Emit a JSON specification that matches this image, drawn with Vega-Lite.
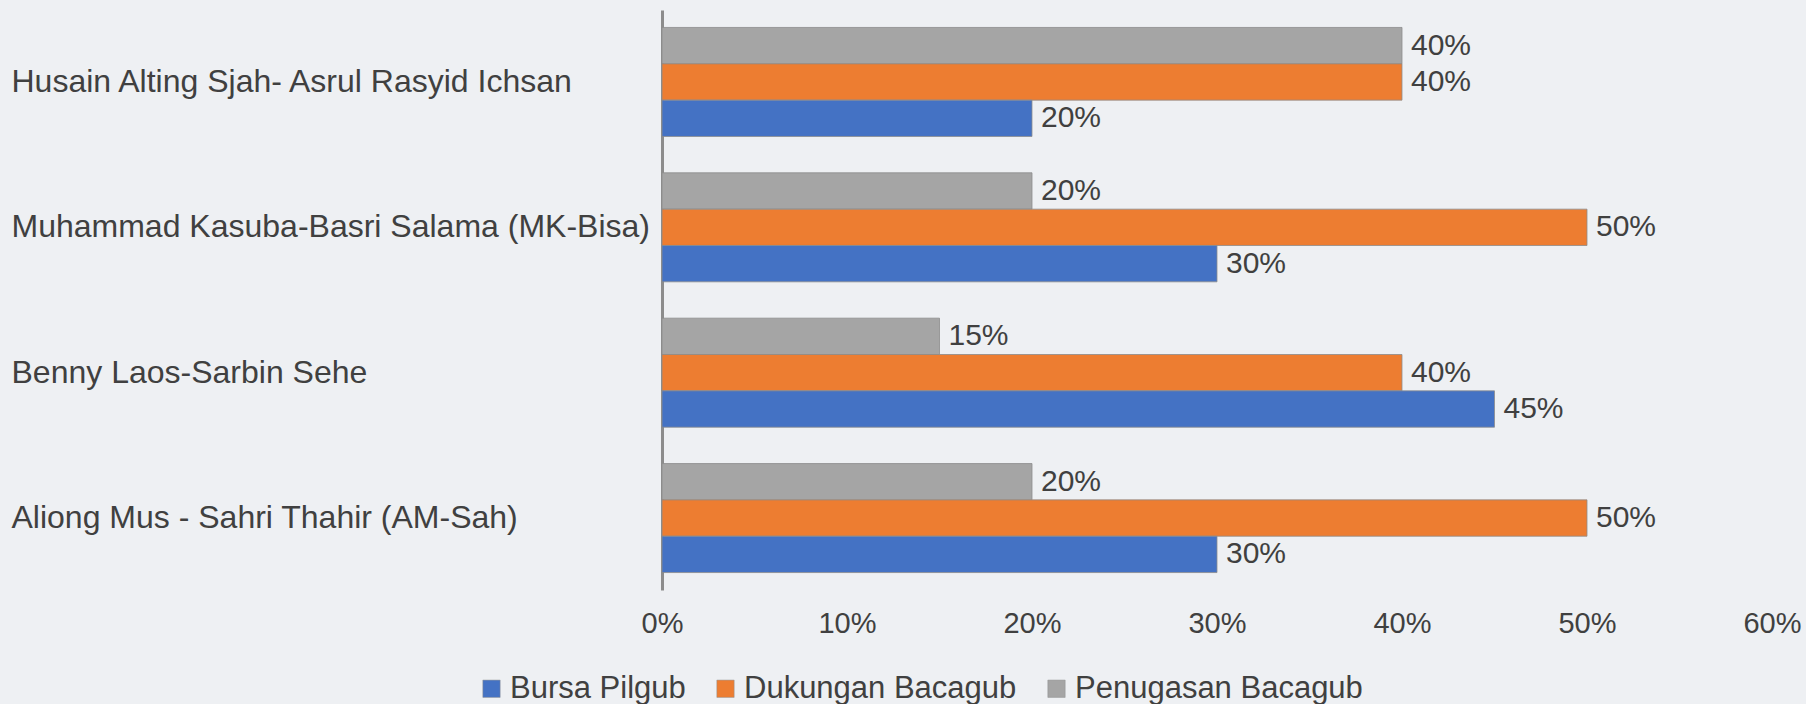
{
  "$schema": "https://vega.github.io/schema/vega-lite/v6.json",
  "autosize": {"type": "none"},
  "padding": {"left": 662, "top": 10, "right": 34, "bottom": 114},
  "width": 1110,
  "height": 580,
  "background": "#eef0f3",
  "config": {
    "view": {"stroke": null},
    "font": "Liberation Sans",
    "text": {"font": "Liberation Sans"}
  },
  "data": {
    "values": [
      {"pasangan": "Husain Alting Sjah- Asrul Rasyid Ichsan", "kategori": "Penugasan Bacagub", "nilai": 0.40},
      {"pasangan": "Husain Alting Sjah- Asrul Rasyid Ichsan", "kategori": "Dukungan Bacagub", "nilai": 0.40},
      {"pasangan": "Husain Alting Sjah- Asrul Rasyid Ichsan", "kategori": "Bursa Pilgub", "nilai": 0.20},
      {"pasangan": "Muhammad Kasuba-Basri Salama (MK-Bisa)", "kategori": "Penugasan Bacagub", "nilai": 0.20},
      {"pasangan": "Muhammad Kasuba-Basri Salama (MK-Bisa)", "kategori": "Dukungan Bacagub", "nilai": 0.50},
      {"pasangan": "Muhammad Kasuba-Basri Salama (MK-Bisa)", "kategori": "Bursa Pilgub", "nilai": 0.30},
      {"pasangan": "Benny Laos-Sarbin Sehe", "kategori": "Penugasan Bacagub", "nilai": 0.15},
      {"pasangan": "Benny Laos-Sarbin Sehe", "kategori": "Dukungan Bacagub", "nilai": 0.40},
      {"pasangan": "Benny Laos-Sarbin Sehe", "kategori": "Bursa Pilgub", "nilai": 0.45},
      {"pasangan": "Aliong Mus - Sahri Thahir (AM-Sah)", "kategori": "Penugasan Bacagub", "nilai": 0.20},
      {"pasangan": "Aliong Mus - Sahri Thahir (AM-Sah)", "kategori": "Dukungan Bacagub", "nilai": 0.50},
      {"pasangan": "Aliong Mus - Sahri Thahir (AM-Sah)", "kategori": "Bursa Pilgub", "nilai": 0.30}
    ]
  },
  "encoding": {
    "y": {
      "field": "pasangan",
      "type": "nominal",
      "sort": ["Husain Alting Sjah- Asrul Rasyid Ichsan", "Muhammad Kasuba-Basri Salama (MK-Bisa)", "Benny Laos-Sarbin Sehe", "Aliong Mus - Sahri Thahir (AM-Sah)"],
      "scale": {"paddingInner": 0.25, "paddingOuter": 0.12},
      "axis": {
        "title": null,
        "ticks": false,
        "labelAlign": "left",
        "labelPadding": 651,
        "labelFontSize": 32,
        "labelColor": "#404040",
        "labelFont": "Liberation Sans",
        "labelLimit": 700,
        "domainColor": "#8c8c8c",
        "domainWidth": 3
      }
    },
    "yOffset": {
      "field": "kategori",
      "type": "nominal",
      "sort": ["Penugasan Bacagub", "Dukungan Bacagub", "Bursa Pilgub"],
      "scale": {"paddingInner": 0, "paddingOuter": 0}
    },
    "x": {
      "field": "nilai",
      "type": "quantitative",
      "scale": {"domain": [0, 0.6], "nice": false},
      "axis": {
        "title": null,
        "format": ".0%",
        "values": [0, 0.1, 0.2, 0.3, 0.4, 0.5, 0.6],
        "grid": false,
        "domain": false,
        "ticks": false,
        "labelPadding": 19,
        "labelFontSize": 29,
        "labelColor": "#404040",
        "labelFont": "Liberation Sans",
        "labelFlush": false
      }
    }
  },
  "layer": [
    {
      "mark": {"type": "bar", "stroke": "#8c8c8c", "strokeWidth": 1, "strokeOpacity": 0.8},
      "encoding": {
        "color": {
          "field": "kategori",
          "type": "nominal",
          "scale": {
            "domain": ["Bursa Pilgub", "Dukungan Bacagub", "Penugasan Bacagub"],
            "range": ["#4472C4", "#ED7D31", "#A5A5A5"]
          },
          "legend": {
            "title": null,
            "orient": "none",
            "direction": "horizontal",
            "legendX": -186,
            "legendY": 663,
            "symbolType": "square",
            "symbolSize": 300,
            "symbolStrokeColor": "#8c8c8c",
            "symbolStrokeWidth": 0.5,
            "labelFontSize": 31,
            "labelColor": "#404040",
            "labelFont": "Liberation Sans",
            "labelOffset": 3,
            "columnPadding": 24,
            "labelLimit": 400
          }
        }
      }
    },
    {
      "mark": {"type": "text", "align": "left", "baseline": "middle", "dx": 9, "fontSize": 30, "color": "#404040", "font": "Liberation Sans"},
      "encoding": {
        "text": {"field": "nilai", "type": "quantitative", "format": ".0%"}
      }
    }
  ]
}
